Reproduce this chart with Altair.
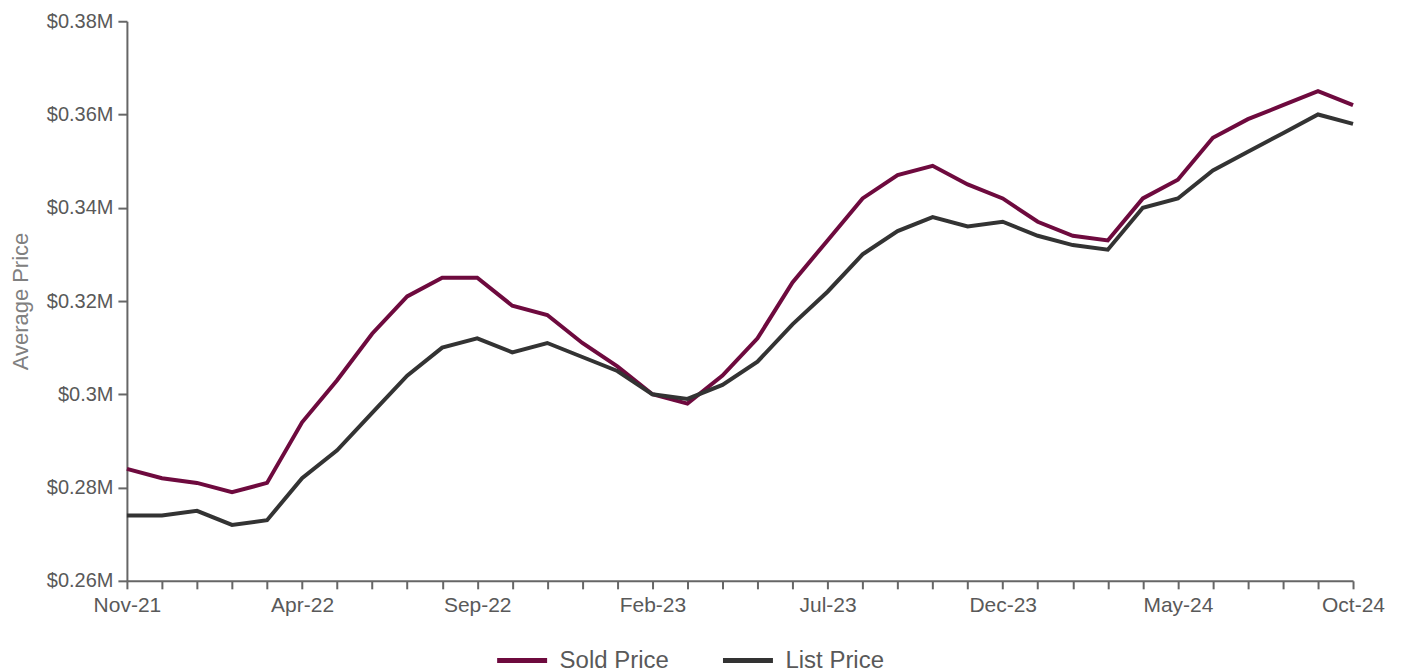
import altair as alt
import pandas as pd

months = ["Nov-21", "Dec-21", "Jan-22", "Feb-22", "Mar-22", "Apr-22", "May-22", "Jun-22",
          "Jul-22", "Aug-22", "Sep-22", "Oct-22", "Nov-22", "Dec-22", "Jan-23", "Feb-23",
          "Mar-23", "Apr-23", "May-23", "Jun-23", "Jul-23", "Aug-23", "Sep-23", "Oct-23",
          "Nov-23", "Dec-23", "Jan-24", "Feb-24", "Mar-24", "Apr-24", "May-24", "Jun-24",
          "Jul-24", "Aug-24", "Sep-24", "Oct-24"]

sold_price = [0.284, 0.282, 0.281, 0.279, 0.281, 0.294, 0.303, 0.313, 0.321, 0.325,
              0.325, 0.319, 0.317, 0.311, 0.306, 0.300, 0.298, 0.304, 0.312, 0.324,
              0.333, 0.342, 0.347, 0.349, 0.345, 0.342, 0.337, 0.334, 0.333, 0.342,
              0.346, 0.355, 0.359, 0.362, 0.365, 0.362]

list_price = [0.274, 0.274, 0.275, 0.272, 0.273, 0.282, 0.288, 0.296, 0.304, 0.310,
              0.312, 0.309, 0.311, 0.308, 0.305, 0.300, 0.299, 0.302, 0.307, 0.315,
              0.322, 0.330, 0.335, 0.338, 0.336, 0.337, 0.334, 0.332, 0.331, 0.340,
              0.342, 0.348, 0.352, 0.356, 0.360, 0.358]

shown_labels = ["Nov-21", "Apr-22", "Sep-22", "Feb-23", "Jul-23", "Dec-23", "May-24", "Oct-24"]
y_ticks = [0.26, 0.28, 0.30, 0.32, 0.34, 0.36, 0.38]

series_names = ["Sold Price", "List Price"]
series_colors = ["#6e0a3e", "#333333"]

rows = []
for i, m in enumerate(months):
    rows.append({"month": m, "series": "Sold Price", "value": sold_price[i]})
    rows.append({"month": m, "series": "List Price", "value": list_price[i]})
df = pd.DataFrame(rows)

label_list = "[" + ",".join("'" + s + "'" for s in shown_labels) + "]"

chart = alt.Chart(df).mark_line(strokeWidth=4).encode(
    x=alt.X("month:O", sort=months, title=None,
            scale=alt.Scale(type="point", padding=0),
            axis=alt.Axis(labelAngle=0,
                          labelExpr=f"indexof({label_list}, datum.value) >= 0 ? datum.value : ''",
                          tickSize=8, labelPadding=6, labelFontSize=21)),
    y=alt.Y("value:Q", title="Average Price",
            scale=alt.Scale(domain=[0.26, 0.38], nice=False, zero=False),
            axis=alt.Axis(values=y_ticks, grid=False, tickSize=9,
                          labelExpr="'$' + format(datum.value, '.2~f') + 'M'",
                          labelPadding=5, labelFontSize=20,
                          titlePadding=14)),
    color=alt.Color("series:N", sort=series_names,
                    scale=alt.Scale(domain=series_names, range=series_colors),
                    legend=alt.Legend(title=None, orient="none", direction="horizontal",
                                      legendX=368, legendY=612,
                                      symbolType="stroke", symbolSize=2500,
                                      symbolStrokeWidth=5, labelFontSize=24,
                                      labelColor="#595959", labelOffset=10,
                                      columnPadding=43)),
    detail="series:N",
).properties(
    width=1227,
    height=560,
    autosize=alt.AutoSizeParams(type="none"),
    padding={"left": 119, "top": 13, "right": 40, "bottom": 110},
).configure_view(
    stroke=None
).configure_axis(
    domainColor="#666666",
    domainWidth=2,
    tickColor="#666666",
    tickWidth=2,
    labelColor="#595959",
    labelFont="Liberation Sans",
    titleColor="#808080",
    titleFont="Liberation Sans",
    titleFontSize=22,
    titleFontWeight="normal",
).configure_legend(
    labelFont="Liberation Sans",
)

chart.save("out.html", embed_options={"renderer": "svg", "actions": False})
